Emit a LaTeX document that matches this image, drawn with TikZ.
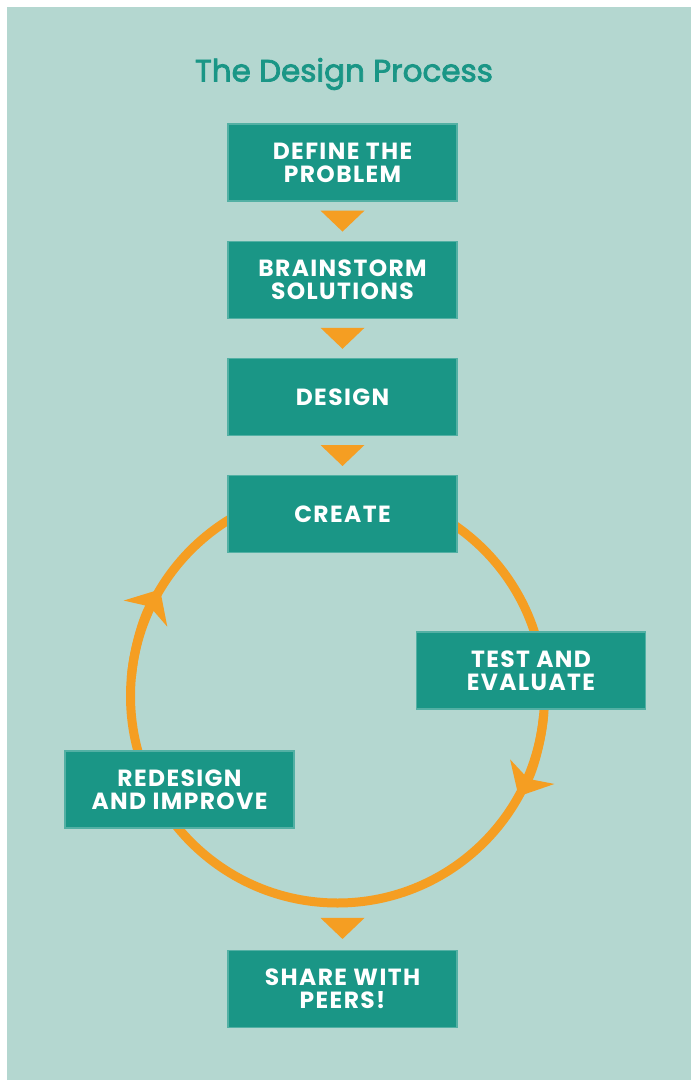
\documentclass[tikz,border=0pt]{standalone}
\usepackage{fontspec}
\setmainfont{Poppins}
\newfontfamily\boxfont{Poppins}[LetterSpace=6]
\newfontfamily\titlefont{Poppins}[FakeBold=2.5]
\usetikzlibrary{arrows.meta,calc,positioning}
\definecolor{bgteal}{HTML}{B4D7D0}
\definecolor{boxteal}{HTML}{1A9686}
\definecolor{droporange}{HTML}{F59E22}
\newcommand{\dropmark}[2]{\fill[droporange] ($#1!0.5!#2+(-22,-10.5)$) -- ++(44,0) -- ++(-22,21) -- cycle;}

\begin{document}
\begin{tikzpicture}[x=0.5pt,y=-0.5pt]

	% Definitions.
	\tikzstyle{every node}=[
		inner sep=0pt,
		%font=\small,
	]
	\tikzstyle{stepbox}=[fill=boxteal, draw=boxteal!75!white, line width=0.6pt, text=white,
		minimum width=114.5pt, minimum height=38.5pt, align=center,
		font=\boxfont\bfseries\fontsize{11.7}{11.5}\selectfont]
	\tikzstyle{ring}=[draw=droporange, line width=4.5pt]
	\def\mytip{Stealth[length=14pt,width=25pt,inset=4pt]};
	\def\RingRadius{207};
	\def\BoxGap{19.5pt};

	% ---------- Page and Title ---------

	\useasboundingbox (0,0) rectangle (691,1080);
	\fill[bgteal] (7,7) rectangle (691,1080);
	\node[text=boxteal, font=\titlefont\fontsize{15.5}{18}\selectfont] (title) at (344,74) {The Design Process};

	% ------------ The Loop -----------

	\coordinate (ringcentre) at (337.5,696);
	\draw[ring] (ringcentre) circle[radius=\RingRadius];
	\draw[ring, -{\mytip}] (ringcentre) ++(185:\RingRadius) arc[start angle=185, end angle=211, radius=\RingRadius];
	\draw[ring, -{\mytip}] (ringcentre) ++(5:\RingRadius) arc[start angle=5, end angle=29, radius=\RingRadius];
	\coordinate (ringbottom) at (342.5,907);

	% ================== STEPS ==================

	\node[stepbox] (define) at (342.5,162.5) {DEFINE THE\\PROBLEM};
	\node[stepbox, below=\BoxGap of define] (brainstorm) {BRAINSTORM\\SOLUTIONS};
	\node[stepbox, below=\BoxGap of brainstorm] (design) {DESIGN};
	\node[stepbox, below=\BoxGap of design] (create) {CREATE};
	\node[stepbox] (test) at (531,670.5) {TEST AND\\EVALUATE};
	\node[stepbox] (redesign) at (179.5,789.5) {REDESIGN\\AND IMPROVE};
	\node[stepbox] (share) at (342.5,989) {SHARE WITH\\PEERS!};

	% Drops between steps.
	\dropmark{(define.south)}{(brainstorm.north)}
	\dropmark{(brainstorm.south)}{(design.north)}
	\dropmark{(design.south)}{(create.north)}
	\dropmark{(ringbottom)}{(share.north)}

\end{tikzpicture}
\end{document}
